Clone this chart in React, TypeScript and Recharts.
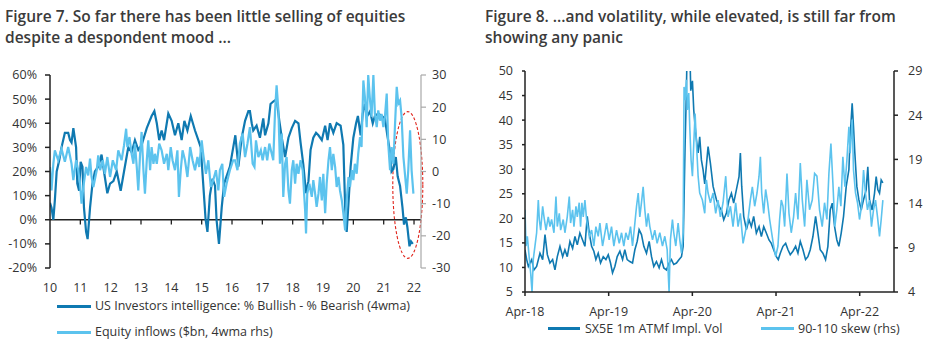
import React from 'react';
import { LineChart, Line, XAxis, YAxis, ReferenceLine, ReferenceArea } from 'recharts';

const DARK = '#0f79b1';
const LIGHT = '#5cc3ee';
const FONT = '"Open Sans", "Noto Sans", sans-serif';

// ---------- Figure 7 ----------
const iiYears = [2010.00, 2010.05, 2010.11, 2010.16, 2010.22, 2010.31, 2010.38, 2010.49, 2010.60, 2010.66, 2010.71, 2010.77, 2010.86, 2010.90, 2010.96, 2011.01, 2011.07, 2011.12, 2011.19, 2011.24, 2011.32, 2011.40, 2011.48, 2011.59, 2011.70, 2011.78, 2011.89, 2011.98, 2012.09, 2012.20, 2012.33, 2012.44, 2012.58, 2012.69, 2012.80, 2012.91, 2013.02, 2013.19, 2013.35, 2013.44, 2013.52, 2013.60, 2013.68, 2013.76, 2013.90, 2014.01, 2014.12, 2014.23, 2014.34, 2014.43, 2014.53, 2014.64, 2014.78, 2014.89, 2014.97, 2015.05, 2015.13, 2015.19, 2015.27, 2015.36, 2015.44, 2015.49, 2015.57, 2015.66, 2015.74, 2015.82, 2015.93, 2016.04, 2016.11, 2016.21, 2016.32, 2016.43, 2016.54, 2016.59, 2016.65, 2016.70, 2016.81, 2016.92, 2017.03, 2017.09, 2017.20, 2017.27, 2017.36, 2017.47, 2017.56, 2017.64, 2017.75, 2017.86, 2017.97, 2018.08, 2018.19, 2018.26, 2018.35, 2018.44, 2018.52, 2018.59, 2018.68, 2018.77, 2018.85, 2018.96, 2019.07, 2019.15, 2019.23, 2019.34, 2019.45, 2019.58, 2019.67, 2019.73, 2019.78, 2019.84, 2019.91, 2020.00, 2020.09, 2020.15, 2020.24, 2020.31, 2020.38, 2020.46, 2020.55, 2020.64, 2020.71, 2020.82, 2020.93, 2021.04, 2021.12, 2021.21, 2021.26, 2021.32, 2021.40, 2021.46, 2021.54, 2021.62, 2021.67, 2021.73, 2021.78, 2021.85, 2021.90, 2021.96];
const iiValues = [7, 5, 0, 8, 20, 25, 30, 36, 36, 33, 32, 38, 30, 15, 12, 24, 22, 5, -5, -8, 5, 15, 20, 22, 27, 20, 11, 15, 16, 20, 12, 20, 30, 28, 33, 29, 31, 38, 43, 45, 40, 33, 37, 33, 44, 41, 35, 40, 33, 41, 37, 43, 37, 33, 30, 15, 0, -5, 10, 17, 14, 0, -10, 5, 15, 18, 22, 30, 35, 22, 34, 41, 45, 45, 40, 37, 39, 34, 42, 35, 40, 48, 49, 50, 41, 34, 26, 34, 38, 41, 40, 32, 23, 11, 16, 29, 34, 36, 35, 33, 39, 33, 40, 36, 40, 39, 31, 5, -5, 7, 22, 34, 40, 43, 35, 44, 48, 43, 45, 40, 43, 44, 43, 42, 35, 28, 20, 21, 26, 18, 14, 5, -2, 1, -3, -11, -9, -10];

const flowYears = [2010.00, 2010.05, 2010.11, 2010.16, 2010.27, 2010.38, 2010.49, 2010.60, 2010.71, 2010.77, 2010.86, 2010.93, 2010.99, 2011.04, 2011.10, 2011.19, 2011.26, 2011.32, 2011.37, 2011.43, 2011.54, 2011.59, 2011.65, 2011.74, 2011.81, 2011.89, 2011.98, 2012.07, 2012.18, 2012.25, 2012.36, 2012.44, 2012.51, 2012.55, 2012.62, 2012.69, 2012.75, 2012.80, 2012.86, 2012.91, 2012.97, 2013.02, 2013.08, 2013.13, 2013.19, 2013.24, 2013.30, 2013.35, 2013.41, 2013.46, 2013.52, 2013.60, 2013.68, 2013.76, 2013.85, 2013.90, 2013.98, 2014.04, 2014.12, 2014.20, 2014.25, 2014.31, 2014.37, 2014.45, 2014.53, 2014.62, 2014.70, 2014.78, 2014.86, 2014.92, 2015.00, 2015.05, 2015.14, 2015.22, 2015.30, 2015.38, 2015.47, 2015.55, 2015.60, 2015.68, 2015.74, 2015.82, 2015.93, 2016.04, 2016.10, 2016.18, 2016.26, 2016.35, 2016.43, 2016.51, 2016.59, 2016.68, 2016.74, 2016.79, 2016.87, 2016.95, 2017.01, 2017.09, 2017.16, 2017.23, 2017.31, 2017.36, 2017.42, 2017.47, 2017.53, 2017.58, 2017.64, 2017.69, 2017.75, 2017.80, 2017.86, 2017.91, 2017.97, 2018.02, 2018.08, 2018.13, 2018.19, 2018.26, 2018.33, 2018.41, 2018.44, 2018.48, 2018.55, 2018.63, 2018.68, 2018.74, 2018.79, 2018.85, 2018.90, 2018.96, 2019.01, 2019.07, 2019.12, 2019.18, 2019.23, 2019.29, 2019.34, 2019.40, 2019.45, 2019.51, 2019.56, 2019.62, 2019.67, 2019.73, 2019.78, 2019.84, 2019.89, 2019.95, 2020.00, 2020.05, 2020.11, 2020.16, 2020.22, 2020.27, 2020.33, 2020.38, 2020.44, 2020.49, 2020.55, 2020.60, 2020.66, 2020.71, 2020.77, 2020.82, 2020.88, 2020.93, 2020.99, 2021.04, 2021.10, 2021.15, 2021.21, 2021.26, 2021.32, 2021.37, 2021.43, 2021.48, 2021.54, 2021.59, 2021.65, 2021.70, 2021.76, 2021.81, 2021.87, 2021.92, 2021.98];
const flowValues = [1.4, -5.9, 2.4, 6.6, 3.5, 7.1, 3.0, 7.6, 2.4, -2.7, 3.5, 0.4, -3.8, -10, -4.8, 1.4, -1.2, 4, -1.7, -4.8, 0.4, 5, 0.4, 3.5, -0.7, 4.5, -1.7, 3.5, 0.4, 6.6, 3.5, 8.1, 13.3, 7.6, 10.7, 5.5, 2.4, 8.7, 1.4, -5.9, 5.5, 12.3, 0.4, -6.9, 3.5, 9.7, 0.4, 7.6, 2.4, 5.5, 2.4, 8.7, 6.6, 2.4, 5.5, 0.4, 7.6, 3.5, 0.4, 6.6, -7.9, 0.4, 6.6, 3.5, -1.7, 7.6, 3.5, 0.4, 4.5, 1.4, 9.7, 5.5, -0.7, 3.5, -4.8, -2.7, 0.4, -5.9, 0.4, 2.4, -7.9, -3.8, 0.4, 3.5, 3.5, 0.4, 8.7, 11.8, 4.5, 8.7, 13.8, 2.4, 1.4, 9.7, 4.5, 6.6, 3.5, 7.6, 3.5, 8.7, 5.5, 3.5, 19, 26.8, 19, 2.4, 11.8, -7.9, 2.4, 4.5, -5.9, -10, 0.4, 3.5, -3.8, 2.4, -0.7, 3.5, 0.4, -12, -19.3, -6.9, -3.8, -7.9, -2.7, -6.9, -11, -6.9, -1.7, -9, -0.7, -13, -3.8, 3.5, 7.6, 0.4, 5.5, 1.4, -4.8, -1.7, -5.9, -9, -13, -18.3, -9, -1.7, -4.8, 0.4, -2.7, 2.4, -0.7, 5.5, 10.7, 7.6, 28.3, 23.1, 13.8, 30, 22, 17, 30, 18, 13.8, 19, 15.8, 17.9, 13.8, 16.9, 24.2, 8.7, 0.4, 7.6, 2.4, 13.8, 26.3, 21.1, 22.1, 17, 4.5, -0.7, -6.9, 0.4, 12.8, 0.4, -6.9];

const fig7YearTicks = [2010, 2011, 2012, 2013, 2014, 2015, 2016, 2017, 2018, 2019, 2020, 2021, 2022];
const fig7LeftTicks = [-20, -10, 0, 10, 20, 30, 40, 50, 60];
const fig7RightTicks = [-30, -20, -10, 0, 10, 20, 30];
const fig7Highlight = { x1: 2021.3, x2: 2022.29, y1: 44.8, y2: -16 };

// ---------- Figure 8 (x = years since Apr-18) ----------
const volT = [0, 0.020, 0.040, 0.080, 0.107, 0.139, 0.179, 0.211, 0.239, 0.267, 0.298, 0.330, 0.358, 0.386, 0.418, 0.450, 0.477, 0.505, 0.537, 0.569, 0.597, 0.625, 0.656, 0.688, 0.716, 0.744, 0.768, 0.796, 0.823, 0.847, 0.875, 0.903, 0.935, 0.967, 0.995, 1.022, 1.046, 1.074, 1.102, 1.134, 1.166, 1.193, 1.221, 1.253, 1.285, 1.313, 1.341, 1.364, 1.392, 1.420, 1.452, 1.484, 1.512, 1.539, 1.571, 1.603, 1.631, 1.659, 1.691, 1.722, 1.750, 1.778, 1.810, 1.842, 1.870, 1.890, 1.901, 1.913, 1.929, 1.941, 1.953, 1.969, 1.981, 2.001, 2.017, 2.033, 2.049, 2.069, 2.088, 2.108, 2.128, 2.148, 2.188, 2.216, 2.248, 2.288, 2.320, 2.347, 2.375, 2.407, 2.439, 2.467, 2.494, 2.526, 2.558, 2.574, 2.590, 2.614, 2.646, 2.677, 2.705, 2.733, 2.765, 2.797, 2.825, 2.853, 2.884, 2.916, 2.944, 2.972, 3.004, 3.027, 3.051, 3.083, 3.115, 3.143, 3.170, 3.202, 3.234, 3.262, 3.290, 3.322, 3.353, 3.381, 3.409, 3.441, 3.473, 3.501, 3.528, 3.560, 3.592, 3.620, 3.648, 3.672, 3.700, 3.727, 3.751, 3.779, 3.807, 3.839, 3.871, 3.886, 3.910, 3.926, 3.942, 3.966, 3.990, 4.018, 4.046, 4.077, 4.097, 4.117, 4.149, 4.177, 4.197, 4.217, 4.237, 4.257, 4.277];
const volValues = [13.6, 11.6, 10.2, 11.6, 9.5, 10.2, 12.9, 11.6, 16.7, 12.6, 10.9, 11.6, 9.5, 12.2, 14.3, 12.2, 13.6, 12.2, 15.3, 13.9, 16.3, 14.6, 17.0, 15.6, 14.3, 20.4, 17.0, 14.3, 13.3, 11.6, 12.9, 10.9, 12.2, 11.6, 12.6, 10.9, 8.9, 10.2, 12.2, 13.3, 11.6, 13.6, 11.6, 11.2, 10.9, 13.6, 15.3, 17.7, 16.7, 14.3, 12.9, 15.3, 12.2, 10.2, 11.2, 9.9, 11.6, 9.9, 9.5, 10.9, 11.6, 10.6, 10.9, 11.6, 12.2, 14.3, 23.8, 34.6, 46.1, 58, 62, 55, 46, 48, 42, 38.7, 36, 33.3, 36.6, 31.9, 29.9, 27, 34.6, 31.2, 26.5, 23.8, 22.4, 21.7, 19.7, 21.1, 23.8, 25.1, 23.1, 25.8, 28.5, 33.3, 26.5, 20.4, 17.7, 19.7, 18.3, 20.4, 17.0, 18.3, 16.3, 18.3, 17.0, 15.6, 14.9, 13.6, 12.2, 11.6, 12.9, 14.3, 14.9, 13.6, 12.6, 13.3, 14.3, 12.9, 15.3, 13.6, 11.6, 12.2, 13.6, 16.3, 20.4, 17.0, 13.6, 12.9, 11.6, 14.3, 21.7, 23.1, 18.3, 15.6, 14.3, 17.0, 20.4, 26.5, 29.9, 36.6, 43.4, 38.7, 33.3, 26.5, 23.8, 21.7, 23.8, 25.8, 30.5, 23.8, 21.7, 25.1, 28.5, 25.8, 25.1, 27.8, 27.2];

const skewT = [0, 0.012, 0.028, 0.052, 0.068, 0.084, 0.099, 0.119, 0.139, 0.159, 0.171, 0.187, 0.211, 0.227, 0.251, 0.278, 0.298, 0.318, 0.346, 0.370, 0.386, 0.410, 0.426, 0.457, 0.477, 0.505, 0.529, 0.545, 0.569, 0.585, 0.609, 0.625, 0.648, 0.664, 0.680, 0.696, 0.716, 0.736, 0.768, 0.796, 0.823, 0.847, 0.875, 0.895, 0.927, 0.955, 0.975, 1.006, 1.034, 1.062, 1.094, 1.126, 1.154, 1.181, 1.205, 1.233, 1.261, 1.285, 1.313, 1.333, 1.353, 1.372, 1.392, 1.412, 1.432, 1.452, 1.472, 1.492, 1.524, 1.551, 1.579, 1.611, 1.643, 1.671, 1.699, 1.722, 1.738, 1.762, 1.778, 1.802, 1.830, 1.850, 1.870, 1.890, 1.901, 1.913, 1.929, 1.941, 1.957, 1.969, 1.985, 2.001, 2.017, 2.033, 2.049, 2.069, 2.088, 2.120, 2.148, 2.168, 2.188, 2.216, 2.248, 2.279, 2.307, 2.335, 2.367, 2.399, 2.427, 2.455, 2.486, 2.518, 2.546, 2.574, 2.606, 2.638, 2.665, 2.693, 2.717, 2.745, 2.773, 2.797, 2.813, 2.829, 2.853, 2.876, 2.900, 2.924, 2.948, 2.972, 2.996, 3.023, 3.043, 3.063, 3.083, 3.103, 3.131, 3.155, 3.182, 3.210, 3.234, 3.262, 3.290, 3.314, 3.342, 3.369, 3.401, 3.433, 3.461, 3.489, 3.520, 3.552, 3.580, 3.608, 3.632, 3.656, 3.680, 3.703, 3.727, 3.751, 3.775, 3.799, 3.823, 3.847, 3.871, 3.886, 3.910, 3.926, 3.950, 3.974, 3.998, 4.022, 4.046, 4.069, 4.093, 4.117, 4.141, 4.165, 4.189, 4.213, 4.237, 4.257, 4.277];
const skewValues = [13.3, 9.2, 10.3, 7.7, 6.1, 4.0, 7.7, 9.2, 10.7, 14.4, 12.2, 11.0, 13.7, 12.5, 11.0, 12.5, 11.4, 12.2, 10.7, 14.8, 11.4, 12.9, 11.0, 12.2, 10.7, 12.5, 14.8, 11.8, 13.3, 11.4, 13.7, 12.5, 14.1, 11.4, 14.1, 12.5, 14.4, 12.2, 10.3, 11.0, 9.2, 11.4, 10.3, 11.8, 9.2, 10.7, 11.8, 9.9, 11.4, 9.2, 11.0, 9.5, 10.7, 9.2, 10.7, 9.9, 11.4, 9.2, 11.8, 13.7, 15.2, 12.5, 14.1, 15.9, 13.3, 11.4, 12.9, 11.4, 9.9, 11.0, 9.5, 10.7, 9.2, 10.3, 8.8, 4.0, 9.9, 12.2, 10.7, 9.2, 11.8, 9.9, 8.4, 10.7, 27.2, 25.7, 28.0, 24.6, 26.5, 22.7, 18.9, 17.1, 20.8, 24.2, 20.8, 17.1, 15.2, 14.4, 12.9, 16.7, 15.2, 14.1, 15.2, 12.9, 14.4, 12.5, 14.1, 17.1, 12.5, 13.7, 11.4, 14.1, 11.4, 12.9, 9.5, 11.0, 12.2, 14.4, 15.9, 13.7, 15.2, 17.1, 19.3, 15.2, 12.9, 15.6, 14.1, 12.2, 10.7, 9.2, 8.0, 9.2, 12.2, 14.4, 13.7, 11.4, 17.4, 12.9, 10.7, 12.5, 15.2, 12.2, 18.6, 14.4, 11.4, 16.7, 13.3, 14.4, 17.4, 17.1, 13.3, 11.4, 14.1, 12.2, 17.4, 20.8, 16.3, 11.4, 13.3, 15.9, 13.7, 19.3, 15.9, 18.9, 22.7, 19.7, 23.5, 17.8, 15.2, 14.1, 12.2, 13.7, 17.8, 15.2, 13.3, 14.4, 11.4, 13.3, 14.4, 12.5, 10.3, 12.2, 14.4];

const fig8XTicks = [0, 1, 2, 3, 4];
const fig8XLabels = ['Apr-18', 'Apr-19', 'Apr-20', 'Apr-21', 'Apr-22'];
const fig8LeftTicks = [5, 10, 15, 20, 25, 30, 35, 40, 45, 50];
const fig8RightTicks = [4, 9, 14, 19, 24, 29];

const iiData = iiYears.map((x, i) => ({ x, v: iiValues[i] }));
const flowData = flowYears.map((x, i) => ({ x, v: flowValues[i] }));
const volData = volT.map((x, i) => ({ x, v: volValues[i] }));
const skewData = skewT.map((x, i) => ({ x, v: skewValues[i] }));

const tickStyle = { fill: '#333', fontSize: 12.5, fontFamily: FONT };
const titleStyle: React.CSSProperties = {
  position: 'absolute', fontFamily: FONT, fontWeight: 600, fontSize: 15.5, lineHeight: '21px', color: '#3b3b3b',
  whiteSpace: 'nowrap',
};
const legendText: React.CSSProperties = {
  position: 'absolute', fontFamily: FONT, fontSize: 12.5, color: '#333', whiteSpace: 'nowrap', lineHeight: '14px',
};

const LegendLine = ({ x, y, w, color }: { x: number; y: number; w: number; color: string }) => (
  <div style={{ position: 'absolute', left: x, top: y - 1.5, width: w, height: 3, background: color }} />
);

const EllipseShape = (props: any) => {
  const { x, y, width, height } = props;
  return (
    <ellipse
      cx={x + width / 2}
      cy={y + height / 2}
      rx={Math.abs(width) / 2}
      ry={Math.abs(height) / 2}
      fill="none"
      stroke="#e0241b"
      strokeWidth={1.1}
      strokeDasharray="3 2"
    />
  );
};

export default function App() {
  return (
    <div style={{ position: 'absolute', left: 0, top: 0, width: 935, height: 351, background: '#fff', overflow: 'hidden', fontFamily: FONT }}>
      <div style={{ ...titleStyle, left: 5, top: 6 }}>
        Figure 7. So far there has been little selling of equities<br />despite a despondent mood ...
      </div>
      <div style={{ ...titleStyle, left: 485, top: 6 }}>
        Figure 8. ...and volatility, while elevated, is still far from<br />showing any panic
      </div>

      <div style={{ position: 'absolute', left: 0, top: 0 }}>
        <LineChart width={470} height={300} margin={{ top: 75, right: 0, bottom: 7, left: 0 }}>
          <XAxis
            dataKey="x"
            type="number"
            domain={[2010, 2022.23]}
            ticks={fig7YearTicks}
            tickFormatter={(v: number) => String(v - 2000)}
            axisLine={false}
            tickLine={false}
            tickSize={0}
            tickMargin={15}
            height={25}
            tick={tickStyle}
            interval={0}
            allowDataOverflow
          />
          <YAxis
            yAxisId="left"
            domain={[-20, 60]}
            ticks={fig7LeftTicks}
            tickFormatter={(v: number) => `${v}%`}
            width={50}
            stroke="#222"
            strokeWidth={1.5}
            tickSize={5}
            tickMargin={8}
            tick={tickStyle}
            interval={0}
          />
          <YAxis
            yAxisId="right"
            orientation="right"
            domain={[-30, 30]}
            ticks={fig7RightTicks}
            width={49}
            stroke="#a8a8a8"
            strokeWidth={1.2}
            tickSize={5}
            tickMargin={6}
            tick={tickStyle}
            interval={0}
          />
          <ReferenceLine yAxisId="left" y={0} stroke="#222" strokeWidth={1.5} />
          {fig7YearTicks.slice(1).map((yr) => (
            <ReferenceLine
              key={yr}
              yAxisId="left"
              segment={[{ x: yr, y: 0 }, { x: yr, y: -2 }]}
              stroke="#222"
              strokeWidth={1.3}
            />
          ))}
          <Line yAxisId="left" data={iiData} dataKey="v" stroke={DARK} strokeWidth={2.2} dot={false} isAnimationActive={false} />
          <Line yAxisId="right" data={flowData} dataKey="v" stroke={LIGHT} strokeWidth={2.2} dot={false} isAnimationActive={false} />
          <ReferenceArea
            yAxisId="left"
            x1={fig7Highlight.x1}
            x2={fig7Highlight.x2}
            y1={fig7Highlight.y1}
            y2={fig7Highlight.y2}
            ifOverflow="visible"
            shape={EllipseShape}
          />
        </LineChart>
      </div>
      <LegendLine x={57} y={306} w={34} color={DARK} />
      <div style={{ ...legendText, left: 95, top: 299 }}>US Investors intelligence: % Bullish - % Bearish (4wma)</div>
      <LegendLine x={57} y={332} w={34} color={LIGHT} />
      <div style={{ ...legendText, left: 95, top: 325 }}>Equity inflows ($bn, 4wma rhs)</div>

      <div style={{ position: 'absolute', left: 470, top: 0 }}>
        <LineChart width={465} height={351} margin={{ top: 71, right: 0, bottom: 34, left: 0 }}>
          <XAxis
            dataKey="x"
            type="number"
            domain={[0, 4.41]}
            ticks={fig8XTicks}
            tickFormatter={(v: number) => fig8XLabels[v] ?? ''}
            stroke="#222"
            strokeWidth={1.5}
            tickSize={4}
            tickMargin={11}
            height={25}
            tick={tickStyle}
            interval={0}
            allowDataOverflow
          />
          <YAxis
            yAxisId="left"
            domain={[5, 50]}
            ticks={fig8LeftTicks}
            width={55}
            stroke="#222"
            strokeWidth={1.5}
            tickSize={3}
            tickMargin={9}
            tick={tickStyle}
            interval={0}
            allowDataOverflow
          />
          <YAxis
            yAxisId="right"
            orientation="right"
            domain={[4, 29]}
            ticks={fig8RightTicks}
            width={41}
            stroke="#222"
            strokeWidth={1.5}
            tickSize={4}
            tickMargin={10}
            tick={tickStyle}
            interval={0}
            allowDataOverflow
          />
          <Line yAxisId="left" data={volData} dataKey="v" stroke={DARK} strokeWidth={1.6} dot={false} isAnimationActive={false} />
          <Line yAxisId="right" data={skewData} dataKey="v" stroke={LIGHT} strokeWidth={1.6} dot={false} isAnimationActive={false} />
        </LineChart>
      </div>
      <LegendLine x={548} y={328} w={32} color={DARK} />
      <div style={{ ...legendText, left: 585, top: 322 }}>SX5E 1m ATMf Impl. Vol</div>
      <LegendLine x={761} y={328} w={33} color={LIGHT} />
      <div style={{ ...legendText, left: 798, top: 322 }}>90-110 skew (rhs)</div>
    </div>
  );
}
